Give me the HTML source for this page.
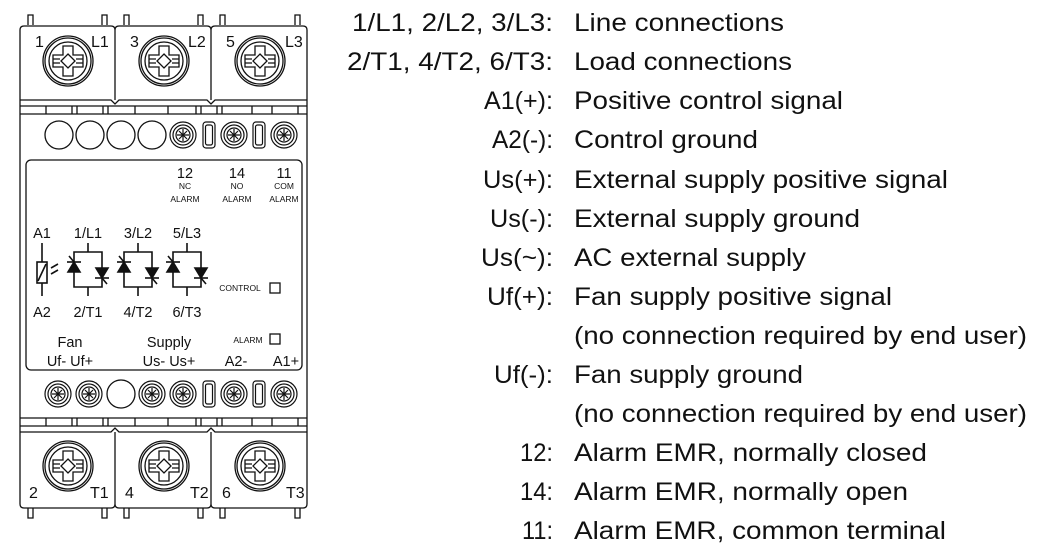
<!DOCTYPE html>
<html><head><meta charset="utf-8"><style>
html,body{margin:0;padding:0;background:#fff;width:1038px;height:552px;overflow:hidden}
svg{display:block}
text{font-family:"Liberation Sans",sans-serif;fill:#111}
</style></head><body>
<svg width="1038" height="552" viewBox="0 0 1038 552" xmlns="http://www.w3.org/2000/svg">
<defs>
<g id="screw" fill="none" stroke="#111" stroke-width="1.3">
<circle r="25"/><circle r="23"/><circle r="19"/>
<path d="M-5,-15 H5 V-6 H15 V6 H5 V15 H-5 V6 H-15 V-6 H-5 Z"/>
<path d="M-15,-2 H-8 M8,-2 H15 M-15,2 H-8 M8,2 H15"/>
<path d="M0,-7 L7,0 L0,7 L-7,0 Z"/>
</g>
<g id="sc" fill="none" stroke="#111" stroke-width="1.2">
<circle r="13"/><circle r="10"/><circle r="7"/>
<path d="M-6,0 H6 M0,-6 V6 M-4,-4 L4,4 M-4,4 L4,-4"/>
</g>
<g id="slot" fill="none" stroke="#111" stroke-width="1.2">
<rect x="-6" y="-13" width="12" height="26" rx="3"/><rect x="-3.5" y="-10" width="7" height="20" rx="2"/>
</g>
<g id="thy" fill="none" stroke="#111" stroke-width="1.6">
<path d="M0,-27 V-18 M-14,-18 H14 V17 H-14 Z M0,17 V26"/>
<path d="M-21,-8 H-7" /><path d="M-14,-8 L-20,2 H-8 Z" fill="#111"/>
<path d="M7,8 H21"/><path d="M14,8 L8,-2 H20 Z" fill="#111"/>
<path d="M14,8 L19,14 M-14,-8 L-19,-14"/>
</g>
</defs>
<g fill="none" stroke="#111" stroke-width="1.3">
<path d="M28,25 V15 H33 V25 M102,25 V15 H107 V25 M124,25 V15 H129 V25 M198,25 V15 H203 V25 M220,25 V15 H225 V25 M295,25 V15 H300 V25"/>
<path d="M20,100 V30 Q20,26 24,26 H111 Q115,26 115,30 V100 M115,100 V30 Q115,26 119,26 H207 Q211,26 211,30 V100 M211,100 V30 Q211,26 215,26 H303 Q307,26 307,30 V100"/>
<path d="M20,100 H111 L115,104 L119,100 H207 L211,104 L215,100 H307"/>
<path d="M20,106 H307 M20,114 H307"/>
<path d="M46,106 V114 M72,106 V114 M77,106 V114 M103,106 V114 M108,106 V114 M135,106 V114 M168,106 V114 M196,106 V114 M201,106 V114 M217,106 V114 M222,106 V114 M252,106 V114 M272,106 V114 M298,106 V114"/>
<path d="M20,100 V432 M307,100 V432"/>
<rect x="26" y="160" width="276" height="210" rx="5"/>
<path d="M20,418 H307 M20,426 H307"/>
<path d="M46,418 V426 M72,418 V426 M77,418 V426 M103,418 V426 M108,418 V426 M135,418 V426 M168,418 V426 M196,418 V426 M201,418 V426 M217,418 V426 M222,418 V426 M252,418 V426 M272,418 V426 M298,418 V426"/>
<path d="M20,432 H111 L115,428 L119,432 H207 L211,428 L215,432 H307"/>
<path d="M20,432 V504 Q20,508 24,508 H111 Q115,508 115,504 V432 M115,504 Q115,508 119,508 H207 Q211,508 211,504 V432 M211,504 Q211,508 215,508 H303 Q307,508 307,504 V432"/>
<path d="M28,508 V518 H33 V508 M102,508 V518 H107 V508 M124,508 V518 H129 V508 M198,508 V518 H203 V508 M220,508 V518 H225 V508 M295,508 V518 H300 V508"/>
<circle cx="59" cy="135" r="14"/><circle cx="90" cy="135" r="14"/><circle cx="121" cy="135" r="14"/><circle cx="152" cy="135" r="14"/>
<circle cx="121" cy="394" r="14"/>
<rect x="270" y="283" width="10" height="10"/>
<rect x="270" y="334" width="10" height="10"/>
<path d="M42,243 V262 M42,283 V296" stroke-width="1.6"/>
<rect x="37" y="262" width="10" height="21" stroke-width="1.6"/>
<path d="M38,281 L46,264" stroke-width="1.6"/>
<path d="M51,268 L58,264 M51,274 L58,270" stroke-width="1.6"/>
</g>
<use href="#sc" x="183" y="135"/><use href="#slot" x="209" y="135"/><use href="#sc" x="234" y="135"/><use href="#slot" x="259" y="135"/><use href="#sc" x="284" y="135"/>
<use href="#sc" x="58" y="394"/><use href="#sc" x="89" y="394"/><use href="#sc" x="152" y="394"/><use href="#sc" x="183" y="394"/><use href="#slot" x="209" y="394"/><use href="#sc" x="234" y="394"/><use href="#slot" x="259" y="394"/><use href="#sc" x="284" y="394"/>
<use href="#screw" x="68" y="61"/><use href="#screw" x="164" y="61"/><use href="#screw" x="260" y="61"/>
<use href="#screw" x="68" y="466"/><use href="#screw" x="164" y="466"/><use href="#screw" x="260" y="466"/>
<use href="#thy" x="88" y="270"/><use href="#thy" x="138" y="270"/><use href="#thy" x="187" y="270"/>
<g font-size="16">
<text x="35" y="47">1</text><text x="91" y="47">L1</text><text x="130" y="47">3</text><text x="188" y="47">L2</text><text x="226" y="47">5</text><text x="285" y="47">L3</text>
<text x="29" y="498">2</text><text x="90" y="498">T1</text><text x="125" y="498">4</text><text x="190" y="498">T2</text><text x="222" y="498">6</text><text x="286" y="498">T3</text>
</g>
<g font-size="14.5" text-anchor="middle">
<text x="185" y="178">12</text><text x="237" y="178">14</text><text x="284" y="178">11</text>
<text x="42" y="238">A1</text><text x="88" y="238">1/L1</text><text x="138" y="238">3/L2</text><text x="187" y="238">5/L3</text>
<text x="42" y="317">A2</text><text x="88" y="317">2/T1</text><text x="138" y="317">4/T2</text><text x="187" y="317">6/T3</text>
<text x="70" y="347">Fan</text><text x="169" y="347">Supply</text>
<text x="70" y="366">Uf-  Uf+</text><text x="169" y="366">Us- Us+</text><text x="236" y="366">A2-</text><text x="286" y="366">A1+</text>
</g>
<g font-size="8.5" text-anchor="middle">
<text x="185" y="189">NC</text><text x="237" y="189">NO</text><text x="284" y="189">COM</text>
<text x="185" y="202">ALARM</text><text x="237" y="202">ALARM</text><text x="284" y="202">ALARM</text>
<text x="240" y="291">CONTROL</text><text x="248" y="343">ALARM</text>
</g>
<g font-size="25" lengthAdjust="spacingAndGlyphs">
<text x="352" y="31" textLength="201" lengthAdjust="spacingAndGlyphs">1/L1, 2/L2, 3/L3:</text>
<text x="347" y="70" textLength="206" lengthAdjust="spacingAndGlyphs">2/T1, 4/T2, 6/T3:</text>
<text x="484" y="109" textLength="69" lengthAdjust="spacingAndGlyphs">A1(+):</text>
<text x="492" y="148" textLength="61" lengthAdjust="spacingAndGlyphs">A2(-):</text>
<text x="483" y="188" textLength="70" lengthAdjust="spacingAndGlyphs">Us(+):</text>
<text x="490" y="227" textLength="63" lengthAdjust="spacingAndGlyphs">Us(-):</text>
<text x="481" y="266" textLength="72" lengthAdjust="spacingAndGlyphs">Us(~):</text>
<text x="487" y="305" textLength="66" lengthAdjust="spacingAndGlyphs">Uf(+):</text>
<text x="494" y="383" textLength="59" lengthAdjust="spacingAndGlyphs">Uf(-):</text>
<text x="520" y="461" textLength="33" lengthAdjust="spacingAndGlyphs">12:</text>
<text x="520" y="500" textLength="33" lengthAdjust="spacingAndGlyphs">14:</text>
<text x="522" y="539" textLength="31" lengthAdjust="spacingAndGlyphs">11:</text>
<text x="574" y="31" textLength="210" lengthAdjust="spacingAndGlyphs">Line connections</text>
<text x="574" y="70" textLength="218" lengthAdjust="spacingAndGlyphs">Load connections</text>
<text x="574" y="109" textLength="269" lengthAdjust="spacingAndGlyphs">Positive control signal</text>
<text x="574" y="148" textLength="184" lengthAdjust="spacingAndGlyphs">Control ground</text>
<text x="574" y="188" textLength="374" lengthAdjust="spacingAndGlyphs">External supply positive signal</text>
<text x="574" y="227" textLength="286" lengthAdjust="spacingAndGlyphs">External supply ground</text>
<text x="574" y="266" textLength="232" lengthAdjust="spacingAndGlyphs">AC external supply</text>
<text x="574" y="305" textLength="318" lengthAdjust="spacingAndGlyphs">Fan supply positive signal</text>
<text x="574" y="344" textLength="453" lengthAdjust="spacingAndGlyphs">(no connection required by end user)</text>
<text x="574" y="383" textLength="229" lengthAdjust="spacingAndGlyphs">Fan supply ground</text>
<text x="574" y="422" textLength="453" lengthAdjust="spacingAndGlyphs">(no connection required by end user)</text>
<text x="574" y="461" textLength="353" lengthAdjust="spacingAndGlyphs">Alarm EMR, normally closed</text>
<text x="574" y="500" textLength="334" lengthAdjust="spacingAndGlyphs">Alarm EMR, normally open</text>
<text x="574" y="539" textLength="372" lengthAdjust="spacingAndGlyphs">Alarm EMR, common terminal</text>
</g>
</svg>
</body></html>
